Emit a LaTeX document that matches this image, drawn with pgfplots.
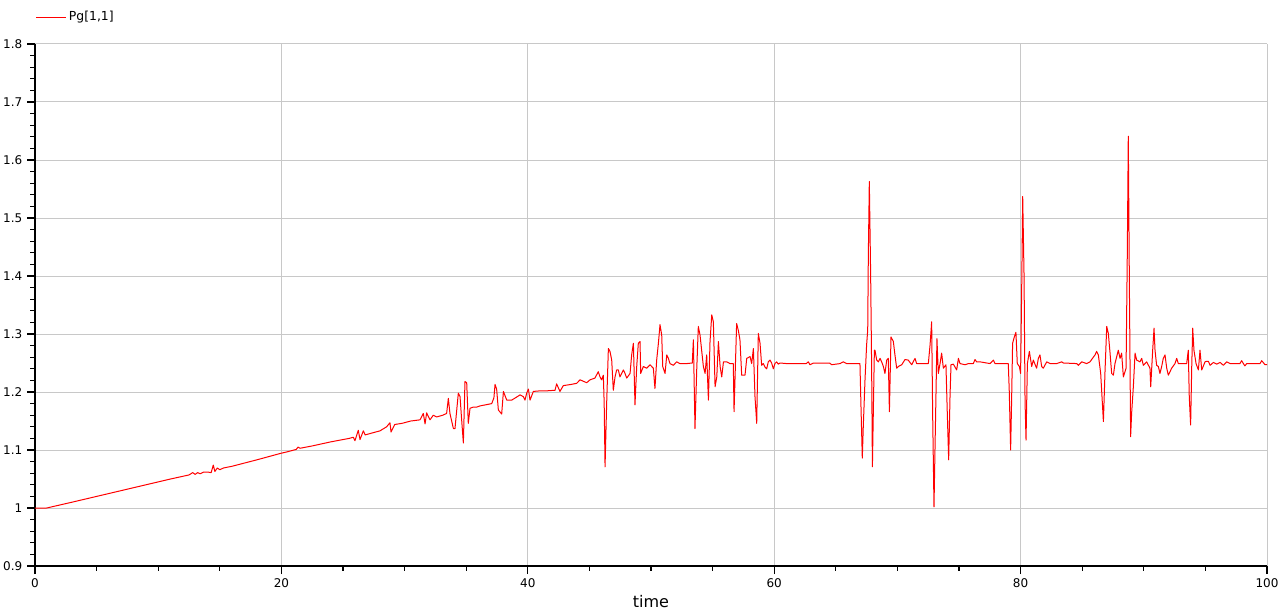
\documentclass[border=0pt]{standalone}
\usepackage{pgfplots}
\pgfplotsset{compat=1.18}
\usepackage{fontspec}
\setmainfont{DejaVu Sans}
\definecolor{gridgray}{RGB}{200,200,200}

\begin{document}
\begin{tikzpicture}
\begin{axis}[
    scale only axis,
    width=924pt, height=391.5pt,
    xmin=0, xmax=100,
    ymin=0.9, ymax=1.8,
    xtick={0,20,40,60,80,100},
    ytick={0.9,1,1.1,1.2,1.3,1.4,1.5,1.6,1.7,1.8},
    minor x tick num=3,
    minor y tick num=4,
    axis x line*=bottom,
    axis y line*=left,
    axis line style={-, black, line width=0.9pt},
    tick align=outside,
    major tick length=6pt,
    minor tick length=3.5pt,
    tick style={black, line width=0.9pt},
    grid=major,
    major grid style={gridgray, line width=0.75pt},
    /pgf/number format/assume math mode=true,
    tick label style={font=\fontsize{9}{10}\selectfont},
    xlabel={time},
    xlabel style={font=\fontsize{12}{13}\selectfont, yshift=1.5pt},
    legend style={at={(0,1.0517)}, anchor=west, draw=none, fill=none,
        xshift=-2.5pt, font=\fontsize{9.3}{10}\selectfont},
    legend cell align=left,
    legend image code/.code={\draw[#1, line width=0.75pt] (0pt,0pt) -- (22pt,0pt);},
]
\addplot[red, line width=0.75pt, line join=round] coordinates {
(0,1.000) (0.95,1.000) (3,1.010) (5,1.020) (7,1.030) (9,1.040) (11,1.050) (12.5,1.057)
(12.8,1.061) (13.0,1.058) (13.2,1.061) (13.4,1.059) (13.7,1.062) (14.0,1.062) (14.3,1.061)
(14.47,1.074) (14.6,1.063) (14.8,1.069) (15.0,1.066) (15.3,1.069) (16,1.072) (18,1.083)
(19.9,1.094) (20.5,1.097) (21.2,1.101) (21.35,1.105) (21.51,1.103) (22.5,1.107) (24,1.114)
(25.5,1.120) (25.84,1.122) (25.97,1.116) (26.24,1.134) (26.38,1.118) (26.65,1.133) (26.8,1.126)
(27.3,1.129) (28,1.133) (28.54,1.140) (28.81,1.147) (28.90,1.131) (29.2,1.144) (29.8,1.146)
(30.5,1.150) (31.25,1.152) (31.52,1.163) (31.66,1.145) (31.79,1.164) (32.06,1.152) (32.33,1.160)
(32.60,1.157) (33.1,1.160) (33.41,1.163) (33.55,1.189) (33.68,1.163) (33.96,1.137) (34.09,1.137)
(34.36,1.198) (34.50,1.192) (34.63,1.152) (34.77,1.112) (34.90,1.218) (35.04,1.216) (35.17,1.146)
(35.31,1.172) (35.58,1.174) (35.85,1.174) (36.12,1.176) (36.6,1.178) (37.07,1.180) (37.25,1.190) (37.34,1.213)
(37.47,1.205) (37.61,1.169) (37.88,1.162) (38.02,1.201) (38.29,1.186) (38.69,1.186) (39.0,1.190)
(39.37,1.195) (39.64,1.192) (39.77,1.186) (39.91,1.198) (40.05,1.205) (40.18,1.186) (40.45,1.201)
(41.0,1.202) (41.53,1.202) (42.21,1.203) (42.34,1.214) (42.61,1.201) (42.88,1.211) (43.5,1.213)
(43.97,1.215) (44.24,1.221) (44.78,1.216) (45.05,1.221) (45.45,1.224) (45.72,1.235) (45.86,1.226)
(45.99,1.221) (46.13,1.229) (46.20,1.180) (46.27,1.071) (46.40,1.180) (46.54,1.275) (46.67,1.270)
(46.81,1.255) (46.94,1.203) (47.08,1.226) (47.21,1.238) (47.35,1.238) (47.48,1.226) (47.62,1.232)
(47.76,1.238) (47.89,1.232) (48.03,1.224) (48.30,1.232) (48.43,1.264) (48.57,1.284) (48.70,1.178)
(48.84,1.244) (48.97,1.284) (49.11,1.287) (49.16,1.232) (49.38,1.244) (49.65,1.241) (49.92,1.247)
(50.19,1.241) (50.32,1.206) (50.46,1.255) (50.60,1.284) (50.73,1.316) (50.87,1.298) (50.95,1.244)
(51.14,1.232) (51.28,1.264) (51.41,1.258) (51.54,1.249) (51.81,1.246) (52.08,1.252) (52.35,1.249)
(52.90,1.249) (53.35,1.250) (53.44,1.290) (53.57,1.137) (53.71,1.238) (53.84,1.313) (53.98,1.298) (54.25,1.244)
(54.39,1.232) (54.52,1.264) (54.66,1.186) (54.79,1.287) (54.93,1.333) (55.06,1.321) (55.20,1.209)
(55.34,1.226) (55.47,1.287) (55.61,1.244) (55.74,1.226) (55.88,1.252) (56.15,1.252) (56.41,1.249)
(56.68,1.249) (56.74,1.166) (56.95,1.318) (57.09,1.306) (57.22,1.290) (57.36,1.229) (57.63,1.229)
(57.77,1.258) (58.04,1.261) (58.17,1.249) (58.31,1.275) (58.44,1.192) (58.58,1.146) (58.71,1.301)
(58.85,1.284) (58.98,1.246) (59.12,1.249) (59.25,1.243) (59.39,1.240) (59.52,1.252) (59.66,1.255)
(59.79,1.250) (59.93,1.240) (60.06,1.249) (60.20,1.252) (60.33,1.248) (60.47,1.250) (61.0,1.249)
(62.6,1.249) (62.77,1.252) (62.9,1.247) (63.2,1.250) (64.0,1.250) (64.5,1.250) (64.66,1.247)
(65.34,1.249) (65.61,1.252) (65.88,1.249) (66.96,1.249) (67.02,1.195) (67.15,1.086) (67.23,1.140)
(67.37,1.221) (67.50,1.281) (67.59,1.307) (67.64,1.436) (67.72,1.563) (67.83,1.399) (67.91,1.238)
(67.97,1.071) (68.05,1.172) (68.13,1.272) (68.18,1.272) (68.32,1.255) (68.45,1.252) (68.59,1.258)
(68.72,1.252) (68.86,1.244) (68.99,1.232) (69.13,1.255) (69.26,1.258) (69.35,1.166) (69.48,1.295)
(69.67,1.287) (69.80,1.264) (69.94,1.241) (70.08,1.244) (70.35,1.247) (70.62,1.256) (70.88,1.255)
(71.16,1.247) (71.43,1.258) (71.56,1.249) (72.51,1.249) (72.65,1.281) (72.78,1.321) (72.86,1.163)
(72.97,1.002) (73.05,1.100) (73.13,1.195) (73.21,1.292) (73.32,1.232) (73.46,1.249) (73.59,1.267)
(73.73,1.241) (73.94,1.247) (74.05,1.163) (74.16,1.083) (74.27,1.192) (74.35,1.247) (74.54,1.248)
(74.81,1.238) (74.95,1.258) (75.08,1.249) (75.49,1.247) (75.76,1.249) (76.16,1.249) (76.30,1.256)
(76.43,1.252) (76.70,1.252) (77.52,1.249) (77.79,1.255) (77.92,1.249) (79.00,1.249) (79.08,1.201)
(79.19,1.100) (79.27,1.186) (79.35,1.284) (79.49,1.295) (79.62,1.303) (79.73,1.249) (79.90,1.244)
(80.00,1.232) (80.09,1.382) (80.17,1.537) (80.28,1.399) (80.36,1.183) (80.44,1.117) (80.55,1.249)
(80.71,1.270) (80.90,1.244) (81.03,1.255) (81.30,1.241) (81.44,1.258) (81.57,1.264) (81.71,1.244)
(81.84,1.241) (82.12,1.252) (82.39,1.249) (82.93,1.249) (83.33,1.252) (83.47,1.250) (84.55,1.249)
(84.69,1.246) (84.96,1.252) (85.36,1.249) (85.63,1.252) (86.04,1.264) (86.17,1.270) (86.31,1.264)
(86.50,1.232) (86.72,1.149) (86.85,1.235) (86.99,1.313) (87.12,1.301) (87.26,1.267) (87.39,1.232)
(87.53,1.229) (87.66,1.249) (87.93,1.272) (88.07,1.258) (88.20,1.267) (88.34,1.226) (88.56,1.241)
(88.66,1.439) (88.74,1.641) (88.83,1.382) (88.93,1.123) (89.01,1.163) (89.15,1.209) (89.29,1.267)
(89.42,1.255) (89.69,1.252) (89.83,1.258) (89.96,1.246) (90.23,1.252) (90.50,1.241) (90.56,1.209)
(90.72,1.272) (90.83,1.310) (90.91,1.272) (91.04,1.246) (91.18,1.244) (91.31,1.232) (91.45,1.244)
(91.58,1.258) (91.72,1.264) (91.86,1.241) (91.99,1.229) (92.26,1.241) (92.53,1.249) (92.67,1.258)
(92.80,1.249) (93.48,1.249) (93.61,1.272) (93.69,1.192) (93.80,1.143) (93.89,1.244) (93.97,1.310)
(94.07,1.272) (94.24,1.249) (94.43,1.238) (94.56,1.272) (94.70,1.238) (94.97,1.252) (95.10,1.253)
(95.24,1.253) (95.38,1.246) (95.65,1.251) (95.92,1.248) (96.19,1.251) (96.46,1.246) (96.73,1.252)
(97.00,1.249) (97.80,1.249) (97.94,1.254) (98.20,1.245) (98.35,1.249) (99.43,1.249) (99.57,1.254)
(99.84,1.247) (100,1.247)
};
\addlegendentry{Pg[1,1]}
\end{axis}
\pgfresetboundingbox
\path (current axis.south west) ++(-26.25pt,-33.75pt) coordinate (bbsw);
\path (current axis.north east) ++(9.75pt,33pt) coordinate (bbne);
\useasboundingbox (bbsw) rectangle (bbne);
\end{tikzpicture}
\end{document}
